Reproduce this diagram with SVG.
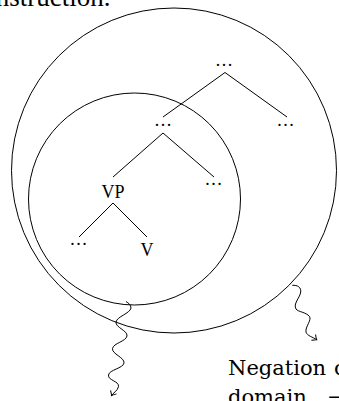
<svg xmlns="http://www.w3.org/2000/svg" width="339" height="401" viewBox="0 0 339 401">
<style>
.ln{fill:none;stroke:#000;stroke-width:1}
.lbl{font-family:"Liberation Serif",serif;font-size:18px;fill:#000;text-anchor:middle}
.txt{font-family:"DejaVu Serif",serif;font-size:21px;fill:#000}
</style>
<defs>
<marker id="to" viewBox="-5 -5 7 10" markerWidth="7" markerHeight="10" refX="0" refY="0" orient="auto" markerUnits="userSpaceOnUse">
<path d="M-4,-3.5 Q-1,-0.5 0,0 Q-1,0.5 -4,3.5" fill="none" stroke="#000" stroke-width="1"/>
</marker>
</defs>
<rect width="339" height="401" fill="#fff"/>
<text x="110.5" y="6" font-family="Liberation Serif, serif" font-size="27" text-anchor="end">instruction.</text>
<g id="outer-circle"><circle class="ln" cx="174" cy="170.5" r="162.5"/></g>
<g id="inner-circle"><circle class="ln" cx="134.5" cy="199" r="106"/></g>
<g id="connectors">
<path class="ln" d="M225,72.5 L163,117 M225,72.5 L287,117"/>
<path class="ln" d="M163,133 L113,177 M163,133 L214,177"/>
<path class="ln" d="M113,203 L79,237 M113,203 L147,237"/>
<path class="ln" marker-end="url(#to)" d="M126,301.5 C128.5,303 131,305 131,308 C130.1,313.4 116.9,316.6 116,322 C115.1,327.4 127.9,330.6 127,336 C126.1,341.4 113.4,343.1 112.5,348.5 C111.6,353.9 124.9,357.6 124,363 C123.1,368.4 109.4,369.6 108.5,375 C107.6,380.4 119.4,381.1 118.5,386.5 C117.6,391 113,393 111.5,395.5"/>
<path class="ln" marker-end="url(#to)" d="M292.3,285.3 C297,285 302,287 300.5,293 C299.5,298 293,304 296,309 C298,312 306,312 309.5,316.5 C312,320 305,327 306,332 C307,336 313,337 316.7,339.7"/>
</g>
<g id="n-top"><text class="lbl" x="224" y="66">…</text></g>
<g id="n-mid"><text class="lbl" x="163" y="126">…</text></g>
<g id="n-right"><text class="lbl" x="285.5" y="126">…</text></g>
<g id="n-vp"><text class="lbl" x="113" y="197.5">VP</text></g>
<g id="n-mid-right"><text class="lbl" x="213.5" y="184.5">…</text></g>
<g id="n-vp-left"><text class="lbl" x="78.5" y="245">…</text></g>
<g id="n-v"><text class="lbl" x="147" y="256">V</text></g>
<text class="txt" x="228" y="374.5">Negation <tspan x="334">of</tspan></text>
<text class="txt" x="228" y="404">domain <tspan x="328">→</tspan></text>
</svg>
